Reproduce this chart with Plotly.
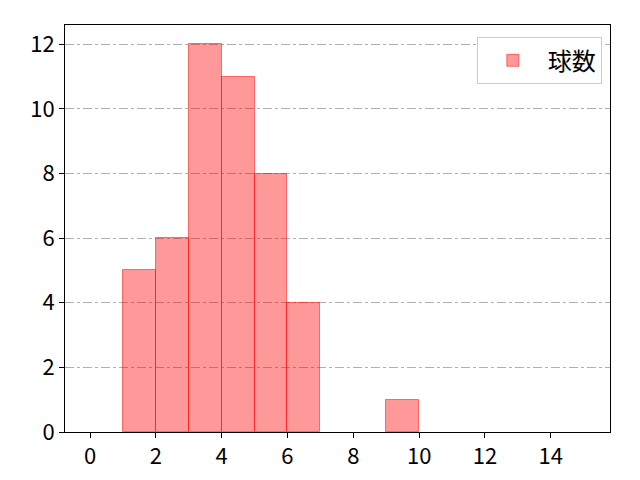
import plotly.graph_objects as go

# ヒストグラムのビン（左端）と度数（度数0のビンは省略）
bin_left = [1, 2, 3, 4, 5, 6, 9]
counts = [5, 6, 12, 11, 8, 4, 1]
bin_width = 1
label = "球数"

x_tick_vals = [0, 2, 4, 6, 8, 10, 12, 14]
y_tick_vals = [0, 2, 4, 6, 8, 10, 12]

fig = go.Figure()
fig.add_trace(go.Bar(
    x=[b + bin_width / 2 for b in bin_left],
    y=counts,
    width=bin_width,
    name=label,
    marker=dict(color="rgba(255,0,0,0.4)", line=dict(color="rgba(255,0,0,0.5)", width=1)),
    showlegend=True,
))

# ページ余白(8px)の分を差し引いた余白
fig.update_layout(
    width=640, height=480,
    margin=dict(l=57, r=38, t=17, b=56),
    paper_bgcolor="white", plot_bgcolor="white",
    font=dict(family="Noto Sans CJK JP", size=22, color="black"),
    bargap=0,
    legend=dict(
        x=0.985, y=0.97, xanchor="right", yanchor="top",
        bordercolor="#cccccc", borderwidth=1, bgcolor="white",
        font=dict(size=24), itemwidth=60,
    ),
)
tick_font = dict(family="Noto Sans CJK JP", size=22, color="black")
fig.update_xaxes(
    range=[-0.76, 15.8], tickvals=x_tick_vals, tickfont=tick_font,
    showline=True, linecolor="black", linewidth=1, mirror=True,
    ticks="outside", ticklen=5, tickcolor="black",
    showgrid=False, zeroline=False,
)
fig.update_yaxes(
    range=[0, 12.6], tickvals=y_tick_vals, tickfont=tick_font,
    showline=True, linecolor="black", linewidth=1, mirror=True,
    ticks="outside", ticklen=5, tickcolor="black",
    showgrid=True, gridcolor="#b0b0b0", gridwidth=1, griddash="dashdot",
    zeroline=False,
)

fig.write_html("out.html")
